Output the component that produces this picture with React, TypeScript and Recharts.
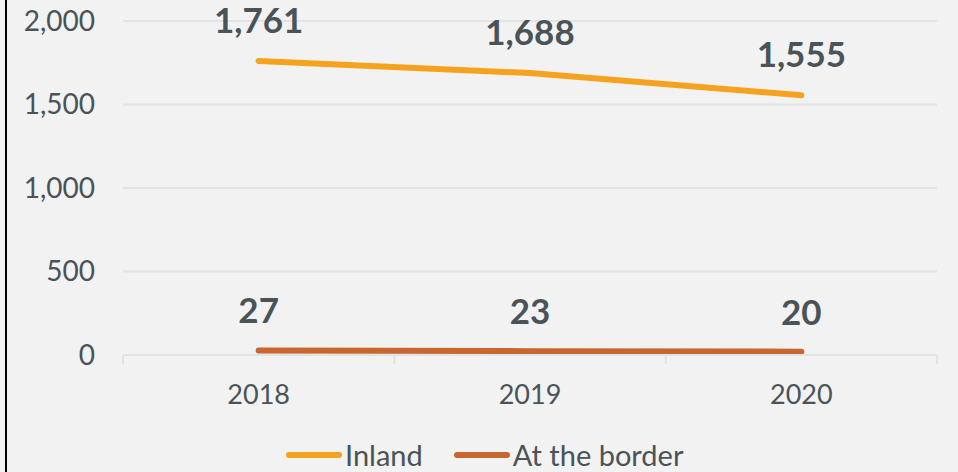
import React from 'react';
import { LineChart, Line, XAxis, YAxis, CartesianGrid, Legend, LabelList } from 'recharts';

const years = [2018, 2019, 2020];
const inland = [1761, 1688, 1555];
const border = [27, 23, 20];
const yTicks = [0, 500, 1000, 1500, 2000];
const xTicks = [2017.5, 2018, 2018.5, 2019, 2019.5, 2020, 2020.5];
const seriesNames = ['Inland', 'At the border'];
const seriesColors = ['#F5A31E', '#C8662F'];

const data = years.map((y, i) => ({ year: y, inland: inland[i], border: border[i] }));

const FONT = 'Lato, "Open Sans", sans-serif';
const TEXT = '#4A5358';
const GRID = '#E0E4E4';
const fmt = (v: number) => v.toLocaleString('en-US');

const TICK_SIZE = 6;
const TICK_MARGIN = 24;

const XTick = (props: any) => {
  const { x, y, payload } = props;
  const v = payload.value;
  if (Number.isInteger(v)) {
    return (
      <text x={x} y={y} dy="0.71em" textAnchor="middle" fill={TEXT} fontSize={27} fontFamily={FONT}>
        {v}
      </text>
    );
  }
  const axisY = y - TICK_SIZE - TICK_MARGIN;
  return <line x1={x} x2={x} y1={axisY} y2={axisY + 9} stroke={GRID} strokeWidth={2} />;
};

const LegendContent = (props: any) => {
  const payload = [...(props.payload || [])].sort(
    (a: any, b: any) => seriesNames.indexOf(a.value) - seriesNames.indexOf(b.value)
  );
  return (
    <div style={{ display: 'flex', alignItems: 'center', fontFamily: FONT, fontSize: 29, color: TEXT, lineHeight: '32px' }}>
      {payload.map((p: any, i: number) => (
        <div key={i} style={{ display: 'flex', alignItems: 'center', marginRight: 31 }}>
          <svg width={56} height={12}>
            <line x1={3} y1={6} x2={53} y2={6} stroke={p.color} strokeWidth={6} strokeLinecap="round" />
          </svg>
          <span style={{ marginLeft: 3 }}>{p.value}</span>
        </div>
      ))}
    </div>
  );
};

export default function App() {
  return (
    <div style={{ position: 'absolute', left: 0, top: 0, width: 958, height: 472, background: '#F2F2F2', overflow: 'hidden' }}>
      <div style={{ position: 'absolute', left: 5, top: 0, width: 2, height: 472, background: '#000' }} />
      <LineChart width={958} height={472} data={data} margin={{ top: 21, right: 21, left: 0, bottom: 57 }}>
        <CartesianGrid vertical={false} stroke={GRID} strokeWidth={2} />
        <XAxis
          type="number"
          dataKey="year"
          domain={[2017.5, 2020.5]}
          ticks={xTicks}
          interval={0}
          height={60}
          tickSize={TICK_SIZE}
          tickMargin={TICK_MARGIN}
          axisLine={{ stroke: GRID, strokeWidth: 2 }}
          tickLine={false}
          tick={<XTick />}
        />
        <YAxis
          width={123}
          domain={[0, 2000]}
          ticks={yTicks}
          tickFormatter={fmt}
          axisLine={false}
          tickLine={false}
          tickMargin={22}
          tick={{ fill: TEXT, fontSize: 28, fontFamily: FONT }}
        />
        <Legend
          verticalAlign="middle"
          align="center"
          layout="horizontal"
          content={<LegendContent />}
          wrapperStyle={{ top: 439, left: 286, width: 650 }}
        />
        <Line
          dataKey="inland"
          name={seriesNames[0]}
          stroke={seriesColors[0]}
          strokeWidth={6}
          strokeLinecap="round"
          dot={false}
          activeDot={false}
          isAnimationActive={false}
        >
          <LabelList dataKey="inland" position="top" offset={28} formatter={fmt} fill={TEXT} fontSize={35} fontWeight={700} fontFamily={FONT} />
        </Line>
        <Line
          dataKey="border"
          name={seriesNames[1]}
          stroke={seriesColors[1]}
          strokeWidth={6}
          strokeLinecap="round"
          dot={false}
          activeDot={false}
          isAnimationActive={false}
        >
          <LabelList dataKey="border" position="top" offset={27} formatter={fmt} fill={TEXT} fontSize={35} fontWeight={700} fontFamily={FONT} />
        </Line>
      </LineChart>
    </div>
  );
}
